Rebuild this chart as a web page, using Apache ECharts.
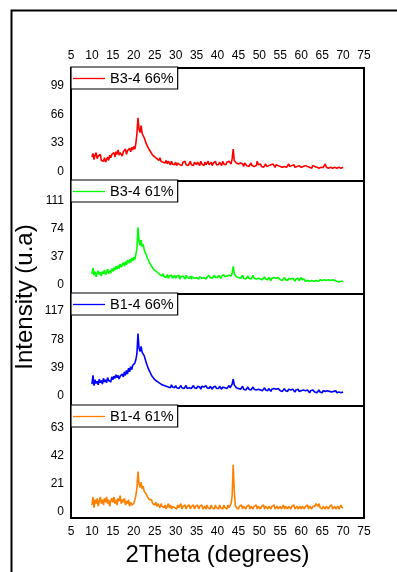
<!DOCTYPE html>
<html>
<head>
<meta charset="utf-8">
<script src="https://cdn.jsdelivr.net/npm/echarts@6/dist/echarts.min.js"></script>
<style>html,body{margin:0;padding:0;background:#fff}#c{width:397px;height:572px}</style>
</head>
<body>
<div id="c"></div>
<script>
// 2Theta grid (degrees)
const theta = [
10,10.25,10.5,10.75,11,11.25,11.5,11.75,12,12.25,12.5,12.75,13,13.25,13.5,13.75,14,14.25,14.5,14.75,
15,15.25,15.5,15.75,16,16.25,16.5,16.75,17,17.25,17.5,17.75,18,18.25,18.5,18.75,19,19.25,19.5,19.75,
20,20.25,20.5,20.75,21,21.25,21.5,21.75,22,22.25,22.5,22.75,23,23.25,23.5,23.75,24,24.25,24.5,24.75,
25,25.25,25.5,25.75,26,26.25,26.5,26.75,27,27.25,27.5,27.75,28,28.25,28.5,28.75,29,29.25,29.5,29.75,
30,30.25,30.5,30.75,31,31.25,31.5,31.75,32,32.25,32.5,32.75,33,33.25,33.5,33.75,34,34.25,34.5,34.75,
35,35.25,35.5,35.75,36,36.25,36.5,36.75,37,37.25,37.5,37.75,38,38.25,38.5,38.75,39,39.25,39.5,39.75,
40,40.25,40.5,40.75,41,41.25,41.5,41.75,42,42.25,42.5,42.75,43,43.25,43.5,43.75,44,44.25,44.5,44.75,
45,45.25,45.5,45.75,46,46.25,46.5,46.75,47,47.25,47.5,47.75,48,48.25,48.5,48.75,49,49.25,49.5,49.75,
50,50.25,50.5,50.75,51,51.25,51.5,51.75,52,52.25,52.5,52.75,53,53.25,53.5,53.75,54,54.25,54.5,54.75,
55,55.25,55.5,55.75,56,56.25,56.5,56.75,57,57.25,57.5,57.75,58,58.25,58.5,58.75,59,59.25,59.5,59.75,
60,60.25,60.5,60.75,61,61.25,61.5,61.75,62,62.25,62.5,62.75,63,63.25,63.5,63.75,64,64.25,64.5,64.75,
65,65.25,65.5,65.75,66,66.25,66.5,66.75,67,67.25,67.5,67.75,68,68.25,68.5,68.75,69,69.25,69.5,69.75,
70];

const b34_66 = [
17,21,14,19,22,15,18,16,20,13,15,12,16,11,14,17,13,19,16,20,
18,22,17,23,20,25,19,22,24,18,23,21,26,20,24,22,27,23,28,25,
29,26,33,44,62,49,45,53,44,46,39,37,32,31,27,27,23,23,19,20,
17,19,15,17,13,16,12,14,11,13,10,13,9,12,10,8,12,9,11,8,
11,7,10,12,8,10,7,11,9,12,8,10,7,9,12,8,10,7,11,9,
8,11,9,7,12,9,10,7,11,8,10,12,8,9,11,7,10,9,12,8,
10,8,11,9,7,12,9,10,8,11,9,12,10,9,15,26,13,11,10,8,
9,7,10,8,9,6,10,8,7,9,6,8,10,7,9,6,8,7,12,8,
7,9,6,8,5,7,9,6,8,7,5,8,6,9,7,5,8,6,7,9,
6,8,5,7,6,8,5,7,9,6,5,7,6,8,5,7,6,4,7,6,
5,7,6,4,7,5,6,8,5,6,4,7,5,6,8,5,7,4,6,5,
7,5,6,9,5,7,4,6,5,7,4,6,5,7,4,6,5,7,4,6,
5];

const b34_61 = [
14,22,12,17,10,15,18,13,16,11,17,14,19,13,16,20,14,18,15,21,
17,22,19,24,20,25,21,27,23,26,29,24,30,26,32,28,33,29,35,31,
36,33,40,48,76,58,52,59,50,53,46,42,39,35,32,29,27,24,23,20,
21,18,19,15,17,13,15,11,14,10,12,9,13,8,11,9,12,8,10,12,
8,11,9,12,7,10,8,11,9,7,12,9,10,8,11,7,10,12,8,10,
9,11,7,10,12,8,10,9,11,7,10,8,12,9,11,8,10,12,9,11,
9,12,10,8,11,9,13,10,8,11,9,12,10,11,15,24,14,12,10,11,
9,11,8,10,12,8,10,7,9,11,8,10,7,9,12,8,10,7,9,8,
10,7,9,6,8,10,7,8,6,9,7,5,8,6,9,7,8,6,9,7,
6,8,5,7,9,6,7,5,8,6,7,5,8,6,4,7,6,8,5,7,
9,6,5,7,4,6,5,7,4,6,5,7,4,6,5,7,4,5,6,4,
5,3,6,4,5,3,6,4,5,3,6,4,5,3,4,6,3,5,4,3,
4];

const b14_66 = [
16,28,14,22,17,20,15,23,18,21,16,24,19,22,18,25,21,23,19,26,
22,27,24,29,25,28,23,27,25,30,26,33,28,35,30,38,33,40,36,42,
40,45,50,58,86,66,61,68,60,62,55,50,45,41,37,34,31,28,27,24,
25,21,22,19,20,17,19,15,17,14,16,13,15,12,14,11,15,12,13,11,
14,11,13,10,12,14,11,13,10,12,14,10,12,11,13,10,12,14,11,12,
10,13,11,12,9,13,11,12,10,14,11,12,10,13,11,9,12,11,13,10,
12,10,13,11,9,12,14,11,13,10,12,14,11,13,16,23,15,13,11,12,
10,12,9,11,13,9,11,8,10,12,9,11,8,10,12,9,11,8,10,9,
11,8,10,7,9,11,8,9,7,10,8,6,9,7,10,8,9,7,10,8,
7,9,6,8,10,7,8,6,9,7,8,6,9,7,5,8,7,9,6,8,
7,5,8,6,7,5,8,6,4,7,5,8,6,5,7,4,6,8,5,6,
4,7,5,6,4,7,5,6,8,5,4,6,5,7,4,6,5,7,4,6,
5];

const b14_61 = [
5,11,3,9,6,10,4,8,11,6,9,5,10,7,11,6,9,4,8,10,
7,11,6,9,5,10,8,12,6,9,7,10,5,8,6,9,4,7,5,6,
6,9,12,18,30,21,18,22,17,19,15,16,13,11,10,9,8,9,6,7,
5,7,4,6,5,3,6,4,5,3,5,2,4,6,3,5,2,4,5,3,
4,2,5,3,4,6,2,4,3,5,2,4,3,5,2,4,3,5,2,4,
3,5,2,4,3,5,2,3,4,2,5,3,4,2,5,3,4,2,5,3,
4,2,5,3,4,2,5,3,4,2,5,3,4,6,12,35,16,5,3,4,
2,4,3,5,2,4,3,2,4,3,5,2,4,3,2,4,3,5,2,4,
3,2,4,3,5,2,4,3,2,4,3,2,4,3,5,2,3,4,2,3,
4,2,3,5,2,4,3,2,4,3,2,4,3,5,2,3,4,2,3,4,
2,4,3,2,4,3,5,2,4,3,2,4,3,4,6,5,4,6,3,4,
2,4,3,2,4,3,2,4,3,5,2,3,4,2,3,4,2,3,5,3,
3];

const seriesNames = ['B3-4 66%', 'B3-4 61%', 'B1-4 66%', 'B1-4 61%'];
const seriesValues = [b34_66, b34_61, b14_66, b14_61];
const yTickLabels = [[0, 33, 66, 99], [0, 37, 74, 111], [0, 39, 78, 117], [0, 21, 42, 63]];
const xTickLabels = [5, 10, 15, 20, 25, 30, 35, 40, 45, 50, 55, 60, 65, 70, 75];
const xTitle = '2Theta (degrees)';
const yTitle = 'Intensity (u.a)';

// layout / style
const colors = ['#ff0000', '#00ff00', '#0000ff', '#ff8000'];
const panels = [
  {top: 68, height: 113, min: -10.7, max: 119.4},
  {top: 181, height: 113, min: -12.9, max: 137.6},
  {top: 294, height: 112, min: -14.2, max: 140.5},
  {top: 406, height: 112, min: -4.7, max: 78.9}
];
const FONT = '"Liberation Sans", Arial, Helvetica, sans-serif';

const chart = echarts.init(document.getElementById('c'), null, {renderer: 'canvas'});
const grid = [], xAxis = [], yAxis = [], series = [], legend = [];
panels.forEach((p, i) => {
  grid.push({left: 71, width: 293, top: p.top, height: p.height, show: true,
    borderColor: '#000', borderWidth: 2, backgroundColor: 'transparent', containLabel: false});
  const showX = (i === 0 || i === 3);
  xAxis.push({
    type: 'value', gridIndex: i, min: xTickLabels[0], max: xTickLabels[xTickLabels.length - 1], interval: 5,
    position: i === 0 ? 'top' : 'bottom',
    axisLine: {show: false}, axisTick: {show: false}, splitLine: {show: false},
    axisLabel: {show: showX, fontSize: 12, color: '#000', fontFamily: FONT, margin: i === 0 ? 6 : 8,
      customValues: xTickLabels}
  });
  yAxis.push({
    type: 'value', gridIndex: i, min: p.min, max: p.max,
    axisLine: {show: false}, axisTick: {show: false}, splitLine: {show: false},
    axisLabel: {fontSize: 12, color: '#000', fontFamily: FONT, margin: 7, customValues: yTickLabels[i]}
  });
  series.push({
    name: seriesNames[i], type: 'line', xAxisIndex: i, yAxisIndex: i,
    data: theta.map((t, j) => [t, seriesValues[i][j]]),
    symbol: 'none', showSymbol: false, color: colors[i],
    lineStyle: {width: 1.6, color: colors[i]}, z: 2
  });
  legend.push({
    data: [{name: seriesNames[i], icon: 'rect'}], left: 71, top: p.top - 1, orient: 'horizontal',
    padding: [3, 4, 2, 2], itemWidth: 32, itemHeight: 1.3, itemGap: 5,
    borderColor: '#000', borderWidth: 1.2, backgroundColor: '#fff', z: 10,
    selectedMode: false,
    itemStyle: {color: colors[i], borderWidth: 0},
    textStyle: {fontSize: 14.5, color: '#000', fontFamily: FONT, lineHeight: 17}
  });
});

chart.setOption({
  animation: false,
  backgroundColor: '#fff',
  grid, xAxis, yAxis, series, legend,
  graphic: [
    {type: 'rect', shape: {x: 11.5, y: 10.5, width: 430, height: 620}, style: {fill: null, stroke: '#000', lineWidth: 2}, silent: true},
    {type: 'text', x: 217.5, y: 555, style: {text: xTitle, fontSize: 24, fontFamily: FONT, fill: '#000', textAlign: 'center', textVerticalAlign: 'middle'}},
    {type: 'text', x: 25, y: 297, rotation: Math.PI / 2, style: {text: yTitle, fontSize: 24, fontFamily: FONT, fill: '#000', textAlign: 'center', textVerticalAlign: 'middle'}}
  ]
});
</script>
</body>
</html>
